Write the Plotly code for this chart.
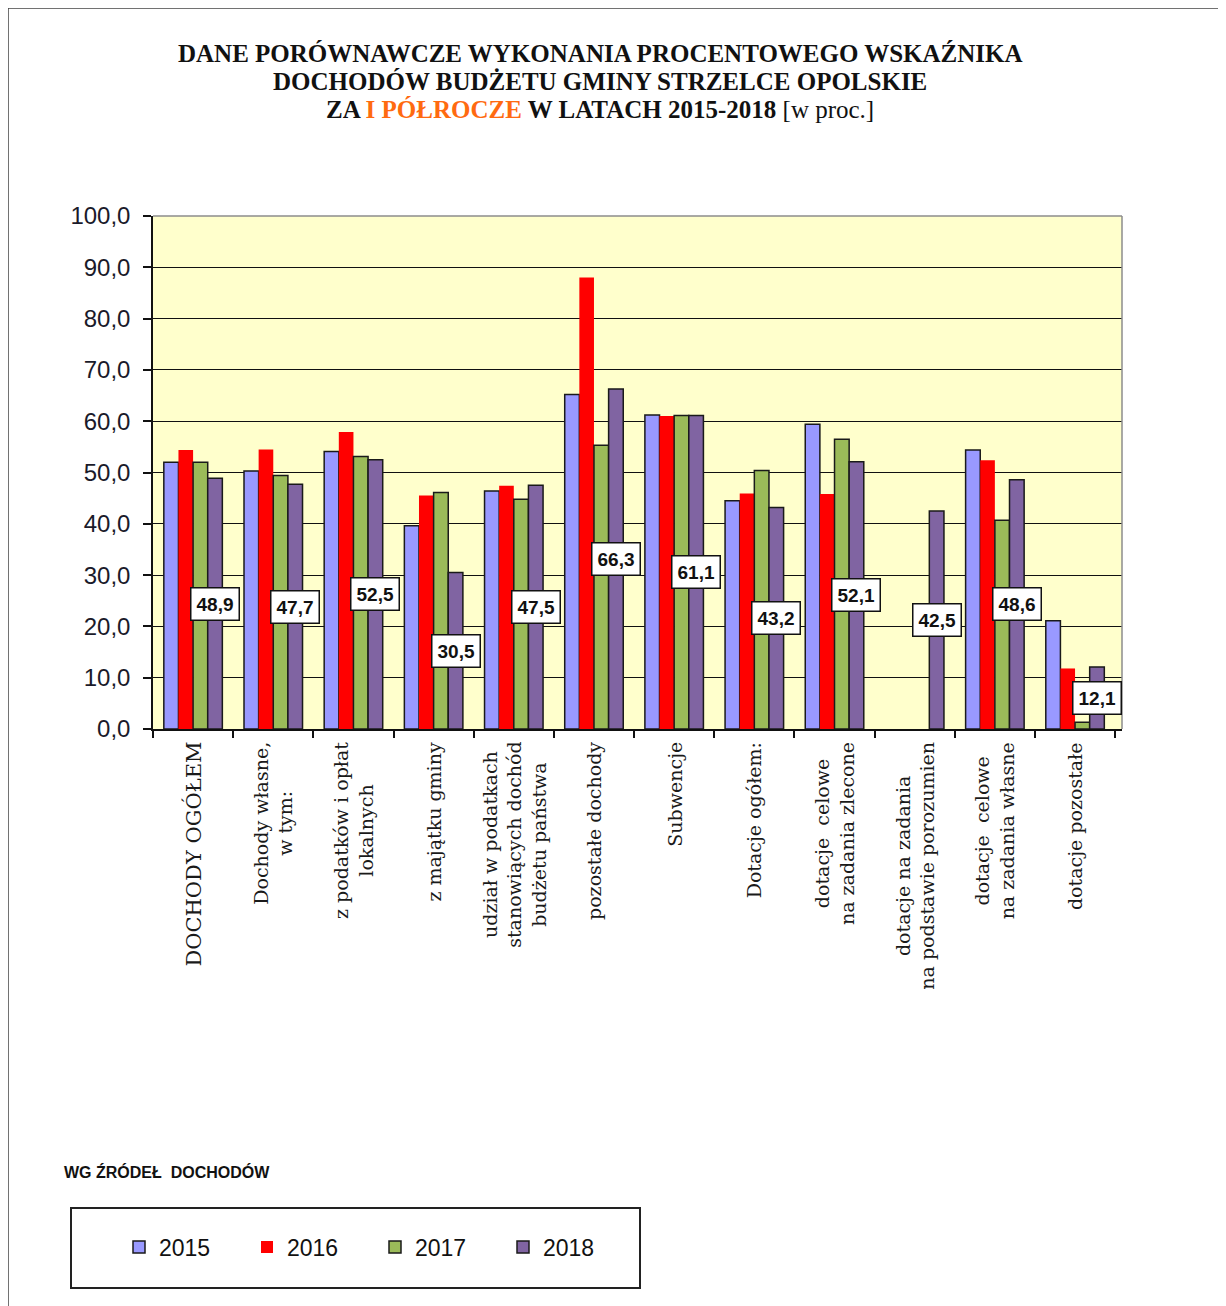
import plotly.graph_objects as go

categories = [
    "DOCHODY OGÓŁEM",
    "Dochody własne,<br>w tym:",
    "z podatków i opłat<br>lokalnych",
    "z majątku gminy",
    "udział w podatkach<br>stanowiących dochód<br>budżetu państwa",
    "pozostałe dochody",
    "Subwencje",
    "Dotacje ogółem:",
    "dotacje  celowe<br>na zadania zlecone",
    "dotacje na zadania<br>na podstawie porozumien",
    "dotacje  celowe<br>na zadania własne",
    "dotacje pozostałe",
]
years = ["2015", "2016", "2017", "2018"]
v2015 = [52.0, 50.3, 54.1, 39.6, 46.4, 65.2, 61.2, 44.5, 59.4, None, 54.4, 21.1]
v2016 = [54.4, 54.5, 57.9, 45.5, 47.4, 88.0, 61.0, 45.9, 45.8, None, 52.4, 11.8]
v2017 = [52.0, 49.4, 53.1, 46.1, 44.8, 55.3, 61.1, 50.4, 56.5, None, 40.7, 1.3]
v2018 = [48.9, 47.7, 52.5, 30.5, 47.5, 66.3, 61.1, 43.2, 52.1, 42.5, 48.6, 12.1]
y_ticks = [0, 10, 20, 30, 40, 50, 60, 70, 80, 90, 100]
title_lines = [
    "<b>DANE PORÓWNAWCZE WYKONANIA PROCENTOWEGO WSKAŹNIKA</b>",
    "<b>DOCHODÓW BUDŻETU GMINY STRZELCE OPOLSKIE</b>",
    "<b>ZA <span style='color:#FF6A10'>I PÓŁROCZE</span> W LATACH 2015-2018</b> [w proc.]",
]

series = [v2015, v2016, v2017, v2018]
colors = ["#9999FF", "#FF0000", "#9BBB59", "#8064A2"]
line_colors = ["#1a1a1a", "#FF0000", "#1a1a1a", "#1a1a1a"]
line_widths = [1.5, 0, 1.5, 1.5]

W, H = 1226, 1306
OFF = 8  # page body margin
L, R, T, B = 153, 1122, 216, 729
BARGAP = 0.27


def px(x):
    return (x - L) / (R - L)


def py(y):
    return (B - y) / (B - T)


fig = go.Figure()
for name, vals, c, lc, lw in zip(years, series, colors, line_colors, line_widths):
    fig.add_trace(go.Bar(
        name=name, x=categories, y=vals,
        marker=dict(color=c, line=dict(color=lc, width=lw)),
        hoverinfo="skip",
    ))

# data labels for 2018 series (centred on its bars)
bw = (1 - BARGAP) / len(years)
off = 1.5 * bw
annotations = []
for i, v in enumerate(v2018):
    annotations.append(dict(
        x=i + off, y=v / 2, xref="x", yref="y",
        text=f"{v:.1f}".replace(".", ","), showarrow=False,
        font=dict(family="Arial, Liberation Sans", size=19, color="#111111", weight="bold"),
        bgcolor="white", bordercolor="#111111", borderwidth=1.5, borderpad=5,
        xanchor="center", yanchor="middle",
    ))

# category labels (rotated, centred lines)
for i, c in enumerate(categories):
    annotations.append(dict(
        x=c, y=0, xref="x", yref="paper", yshift=-11,
        text=c, showarrow=False, textangle=-90, align="center",
        xanchor="center", yanchor="top",
        font=dict(family="DejaVu Serif, Liberation Serif, serif",
                  size=21 if i == 0 else 19, color="#1a1a1a"),
    ))

# title, one line at a time
for line, yc in zip(title_lines, [53, 82, 110]):
    annotations.append(dict(
        x=px(600), y=py(yc), xref="paper", yref="paper", xanchor="center", yanchor="middle",
        showarrow=False, text=line,
        font=dict(family="Liberation Serif, Times New Roman, serif", size=25, color="#111111"),
    ))

annotations.append(dict(
    x=px(62), y=py(1172), xref="paper", yref="paper", xanchor="left", yanchor="middle",
    showarrow=False, text="<b>WG ŹRÓDEŁ  DOCHODÓW</b>",
    font=dict(family="Arial, Liberation Sans", size=16, color="#111111"),
))

shapes = [
    # outer frame
    dict(type="rect", xref="paper", yref="paper", x0=px(8), x1=px(1222), y0=py(1320), y1=py(8),
         line=dict(color="#444444", width=1.5), fillcolor="rgba(0,0,0,0)"),
    # plot area top / right border
    dict(type="line", xref="paper", yref="paper", x0=0, x1=1, y0=1, y1=1,
         line=dict(color="#8c8c8c", width=1.5)),
    dict(type="line", xref="paper", yref="paper", x0=1, x1=1, y0=0, y1=1,
         line=dict(color="#8c8c8c", width=1.5)),
    # legend box
    dict(type="rect", xref="paper", yref="paper", x0=px(71), x1=px(640), y0=py(1288), y1=py(1208),
         line=dict(color="#222222", width=2), fillcolor="rgba(0,0,0,0)"),
]

fig.update_layout(
    width=W - OFF, height=H - OFF,
    margin=dict(l=L - OFF, r=W - R, t=T - OFF, b=H - B, pad=0),
    paper_bgcolor="white", plot_bgcolor="#FFFFCC",
    barmode="group", bargap=BARGAP, bargroupgap=0,
    separators=",.",
    showlegend=True,
    legend=dict(
        orientation="h", x=px(119), y=py(1247), xanchor="left", yanchor="middle",
        font=dict(family="Arial, Liberation Sans", size=23, color="#111111"),
        entrywidth=83, entrywidthmode="pixels", bgcolor="rgba(0,0,0,0)", borderwidth=0,
        itemclick=False, itemdoubleclick=False,
    ),
    annotations=annotations,
    shapes=shapes,
    font=dict(family="Arial, Liberation Sans", color="#111111"),
)
fig.update_xaxes(
    type="category", showticklabels=False, tickson="boundaries",
    ticks="outside", ticklen=7, tickwidth=1.5, tickcolor="#111111",
    showline=True, linecolor="#111111", linewidth=1.5, showgrid=False, zeroline=False,
    fixedrange=True,
)
fig.update_yaxes(
    range=[0, 100], tickvals=y_ticks, tickformat=".1f",
    ticks="outside", ticklen=8, tickwidth=1.5, tickcolor="#111111",
    showline=True, linecolor="#111111", linewidth=1.5,
    showgrid=True, gridcolor="#111111", gridwidth=1, zeroline=False,
    tickfont=dict(family="Arial, Liberation Sans", size=24, color="#1a1a2a"),
    ticklabelstandoff=8,
    fixedrange=True,
)
fig.write_html("out.html")
